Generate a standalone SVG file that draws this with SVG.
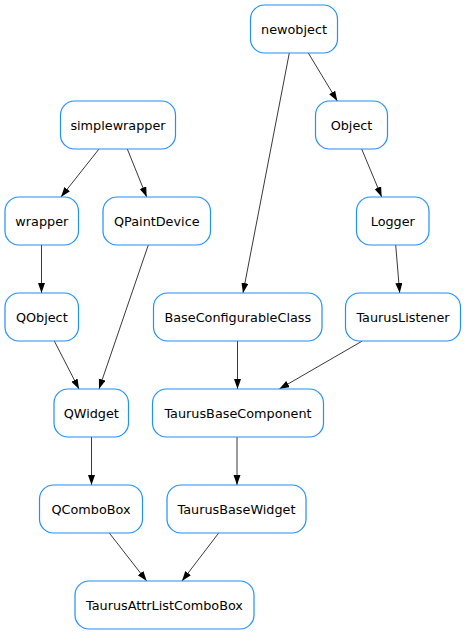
<svg xmlns="http://www.w3.org/2000/svg" width="466" height="635" viewBox="0 0 466 635">
<style>
.n rect{fill:#fff;stroke:#1e90ff;stroke-width:1.2}
.n text{font-family:"DejaVu Sans",sans-serif;font-size:12.8px;fill:#000;text-anchor:middle}
.e line{stroke:#222;stroke-width:0.9;marker-end:url(#ah)}
</style>
<defs>
<marker id="ah" markerUnits="userSpaceOnUse" markerWidth="10" markerHeight="8" refX="10" refY="3.5" orient="auto">
<path d="M0,0 L10,3.5 L0,7 Z" fill="#000"/>
</marker>
</defs>
<rect width="466" height="635" fill="#fff"/>
<g id="edges" class="e">
<line x1="308.3" y1="53" x2="337.3" y2="101"/>
<line x1="289.3" y1="53" x2="243" y2="293"/>
<line x1="361.7" y1="149" x2="381.7" y2="197"/>
<line x1="395.7" y1="245" x2="399.7" y2="293"/>
<line x1="99" y1="149" x2="61" y2="197"/>
<line x1="127.3" y1="149" x2="146.7" y2="197"/>
<line x1="41.5" y1="245" x2="41.5" y2="293"/>
<line x1="148.3" y1="245" x2="99" y2="389"/>
<line x1="54.3" y1="341" x2="79" y2="389"/>
<line x1="237.5" y1="341" x2="237.5" y2="389"/>
<line x1="362.3" y1="341" x2="279.3" y2="389"/>
<line x1="91.5" y1="437" x2="91.5" y2="485"/>
<line x1="237" y1="437" x2="237" y2="485"/>
<line x1="109.3" y1="533" x2="146.7" y2="581"/>
<line x1="218.7" y1="533" x2="182" y2="581"/>
</g>
<g id="newobject" class="n"><rect x="250.5" y="5" width="87" height="48" rx="14"/><text x="294" y="33.5">newobject</text></g>
<g id="Object" class="n"><rect x="315.5" y="101" width="72" height="48" rx="14"/><text x="351.5" y="129.5">Object</text></g>
<g id="Logger" class="n"><rect x="356.5" y="197" width="72.5" height="48" rx="14"/><text x="392.8" y="225.5">Logger</text></g>
<g id="simplewrapper" class="n"><rect x="60.5" y="101" width="115" height="48" rx="14"/><text x="118" y="129.5">simplewrapper</text></g>
<g id="wrapper" class="n"><rect x="5" y="197" width="73.5" height="48" rx="14"/><text x="41.8" y="225.5">wrapper</text></g>
<g id="QPaintDevice" class="n"><rect x="103" y="197" width="107.5" height="48" rx="14"/><text x="156.8" y="225.5">QPaintDevice</text></g>
<g id="QObject" class="n"><rect x="5" y="293" width="73.5" height="48" rx="14"/><text x="41.8" y="321.5">QObject</text></g>
<g id="BaseConfigurableClass" class="n"><rect x="153.5" y="293" width="168.5" height="48" rx="14"/><text x="237.8" y="321.5">BaseConfigurableClass</text></g>
<g id="TaurusListener" class="n"><rect x="345.5" y="293" width="115" height="48" rx="14"/><text x="403" y="321.5">TaurusListener</text></g>
<g id="QWidget" class="n"><rect x="54" y="389" width="74.5" height="48" rx="14"/><text x="91.3" y="417.5">QWidget</text></g>
<g id="TaurusBaseComponent" class="n"><rect x="152.5" y="389" width="171" height="48" rx="14"/><text x="238" y="417.5">TaurusBaseComponent</text></g>
<g id="QComboBox" class="n"><rect x="39.5" y="485" width="103" height="48" rx="14"/><text x="91" y="513.5">QComboBox</text></g>
<g id="TaurusBaseWidget" class="n"><rect x="167" y="485" width="139" height="48" rx="14"/><text x="236.5" y="513.5">TaurusBaseWidget</text></g>
<g id="TaurusAttrListComboBox" class="n"><rect x="75" y="581" width="179" height="48" rx="14"/><text x="164.5" y="609.5">TaurusAttrListComboBox</text></g>
</svg>
